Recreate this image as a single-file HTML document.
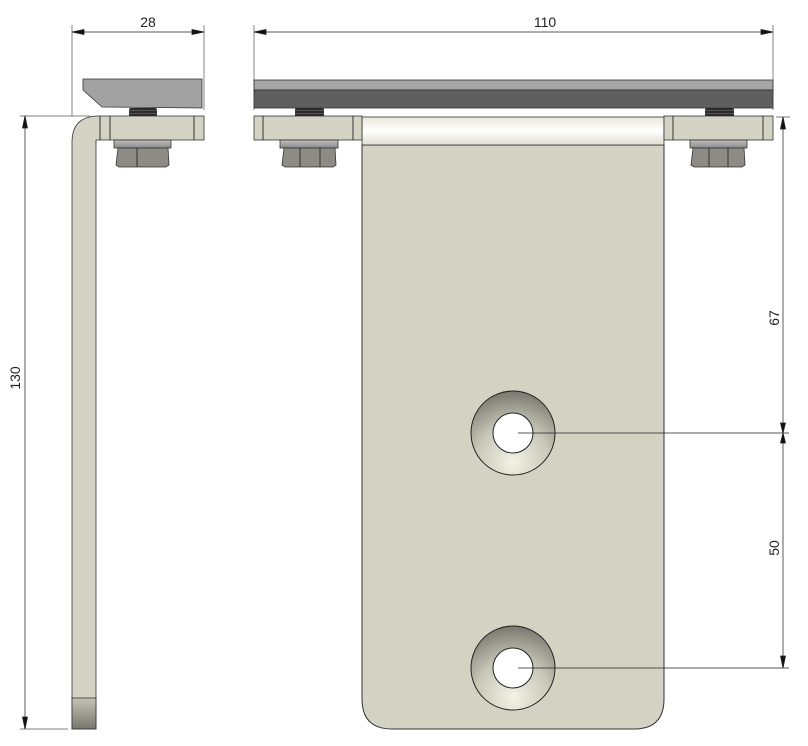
<!DOCTYPE html>
<html><head><meta charset="utf-8"><style>html,body{margin:0;padding:0;background:#fff;}svg{display:block;}</style></head>
<body>
<svg width="808" height="746" viewBox="0 0 808 746" xmlns="http://www.w3.org/2000/svg" font-family="Liberation Sans, sans-serif">
<defs>
<radialGradient id="cs" cx="0.5" cy="0.85" r="0.9">
<stop offset="0" stop-color="#f2f2e6"/><stop offset="0.5" stop-color="#c8c8b8"/><stop offset="1" stop-color="#6e6e66"/>
</radialGradient>
<linearGradient id="wh" x1="0" y1="0" x2="0" y2="1">
<stop offset="0" stop-color="#e8e8da"/><stop offset="0.5" stop-color="#ffffff"/><stop offset="1" stop-color="#deded0"/>
</linearGradient>
<linearGradient id="bt" x1="0" y1="0" x2="0" y2="1">
<stop offset="0" stop-color="#c4c4b6"/><stop offset="1" stop-color="#77776e"/>
</linearGradient>
<linearGradient id="wa" x1="0" y1="0" x2="0" y2="1">
<stop offset="0" stop-color="#c0c0c0"/><stop offset="1" stop-color="#8a8a8a"/>
</linearGradient>
<pattern id="sp" width="4" height="3" patternUnits="userSpaceOnUse"><rect width="4" height="3" fill="#2a2a2a"/><rect y="2" width="4" height="1" fill="#555"/></pattern>
</defs>
<g stroke="#222" stroke-width="0.8">
<line x1="72" y1="25" x2="72" y2="116" stroke="#666"/>
<line x1="204" y1="25" x2="204" y2="110" stroke="#666"/>
<line x1="72" y1="32" x2="204" y2="32"/>
<polygon points="72,32 84,29.5 84,34.5" fill="#111"/>
<polygon points="204,32 192,29.5 192,34.5" fill="#111"/>
<line x1="254" y1="25" x2="254" y2="110" stroke="#666"/>
<line x1="773" y1="25" x2="773" y2="110" stroke="#666"/>
<line x1="254" y1="32" x2="773" y2="32"/>
<polygon points="254,32 266,29.5 266,34.5" fill="#111"/>
<polygon points="773,32 761,29.5 761,34.5" fill="#111"/>
<line x1="20" y1="116" x2="90" y2="116" stroke="#555"/>
<line x1="20" y1="729" x2="68" y2="729" stroke="#555"/>
<line x1="25" y1="116" x2="25" y2="729" stroke="#777" stroke-width="1.2"/>
<polygon points="25,116 22.5,128 27.5,128" fill="#111"/>
<polygon points="25,729 22.5,717 27.5,717" fill="#111"/>
</g>
<text x="148" y="27" font-size="14" text-anchor="middle" fill="#222">28</text>
<text x="545" y="27" font-size="14" text-anchor="middle" fill="#222">110</text>
<text transform="translate(20,378) rotate(-90)" font-size="14" text-anchor="middle" fill="#222">130</text>

<polygon points="83,79 202,79 202,108 102,107 83,90" fill="#a2a2a2" stroke="#333" stroke-width="0.8"/>
<rect x="129" y="108" width="28" height="9" rx="2" fill="url(#sp)"/>
<path d="M72,729 L72,142 Q72,117 97,116 L204,116 L204,140 L96,140 L96,729 Z" fill="#d3d3c4" stroke="#333" stroke-width="0.8"/>
<line x1="100" y1="116" x2="100" y2="140" stroke="#333"/>
<line x1="110" y1="116" x2="110" y2="140" stroke="#333"/>
<line x1="194" y1="116" x2="194" y2="140" stroke="#333"/>
<rect x="72" y="698" width="24" height="31" fill="url(#bt)" stroke="#333" stroke-width="0.8"/>
<rect x="114" y="140" width="57" height="8" fill="url(#wa)" stroke="#333" stroke-width="0.8"/>
<path d="M118,148 L168,148 L169,165 L166,167 L119,167 L116,165 Z" fill="#8e8a84" stroke="#333" stroke-width="0.8"/>
<line x1="137" y1="148" x2="137" y2="167" stroke="#333"/>

<rect x="254" y="80" width="519" height="10" fill="#a5a5a5" stroke="#333" stroke-width="0.8"/>
<rect x="254" y="90" width="519" height="18" fill="#5f5f5f" stroke="#333" stroke-width="0.8"/>
<rect x="295" y="108" width="29" height="9" rx="2" fill="url(#sp)"/>
<rect x="705" y="108" width="29" height="9" rx="2" fill="url(#sp)"/>
<path d="M362,145 L664,145 L664,699 Q664,729 634,729 L392,729 Q362,729 362,699 Z" fill="#d3d3c4" stroke="#333" stroke-width="1"/>
<rect x="362" y="117" width="302" height="28" fill="url(#wh)" stroke="#333" stroke-width="0.8"/>
<rect x="254" y="116" width="108" height="24" fill="#d3d3c4" stroke="#333" stroke-width="0.8"/>
<line x1="263" y1="116" x2="263" y2="140" stroke="#333"/>
<line x1="353" y1="116" x2="353" y2="140" stroke="#333"/>
<rect x="664" y="116" width="109" height="24" fill="#d3d3c4" stroke="#333" stroke-width="0.8"/>
<line x1="673" y1="116" x2="673" y2="140" stroke="#333"/>
<line x1="763" y1="116" x2="763" y2="140" stroke="#333"/>
<rect x="280" y="140" width="58" height="8" fill="url(#wa)" stroke="#333" stroke-width="0.8"/>
<path d="M284,148 L335,148 L336,165 L333,167 L285,167 L282,165 Z" fill="#8e8a84" stroke="#333" stroke-width="0.8"/>
<line x1="300" y1="148" x2="300" y2="167" stroke="#333"/><line x1="320" y1="148" x2="320" y2="167" stroke="#333"/>
<rect x="690" y="140" width="57" height="8" fill="url(#wa)" stroke="#333" stroke-width="0.8"/>
<path d="M693,148 L744,148 L745,165 L742,167 L694,167 L691,165 Z" fill="#8e8a84" stroke="#333" stroke-width="0.8"/>
<line x1="709" y1="148" x2="709" y2="167" stroke="#333"/><line x1="728" y1="148" x2="728" y2="167" stroke="#333"/>

<circle cx="513" cy="433" r="42" fill="url(#cs)" stroke="#222" stroke-width="1"/>
<circle cx="513" cy="433" r="20" fill="#fff" stroke="#222" stroke-width="1"/>
<circle cx="513" cy="668" r="42" fill="url(#cs)" stroke="#222" stroke-width="1"/>
<circle cx="513" cy="668" r="20" fill="#fff" stroke="#222" stroke-width="1"/>

<g stroke="#222" stroke-width="0.8">
<line x1="518" y1="433" x2="789" y2="433"/>
<line x1="518" y1="668" x2="789" y2="668"/>
<line x1="776" y1="117" x2="790" y2="117" stroke="#555"/>
<line x1="783" y1="117" x2="783" y2="668" stroke="#777" stroke-width="1.2"/>
<polygon points="783,117 780.5,129 785.5,129" fill="#111"/>
<polygon points="783,433 780.5,423 785.5,423" fill="#111"/>
<polygon points="783,433 780.5,443 785.5,443" fill="#111"/>
<polygon points="783,668 780.5,656 785.5,656" fill="#111"/>
</g>
<text transform="translate(779,318) rotate(-90)" font-size="14" text-anchor="middle" fill="#222">67</text>
<text transform="translate(779,548) rotate(-90)" font-size="14" text-anchor="middle" fill="#222">50</text>
</svg>
</body></html>
